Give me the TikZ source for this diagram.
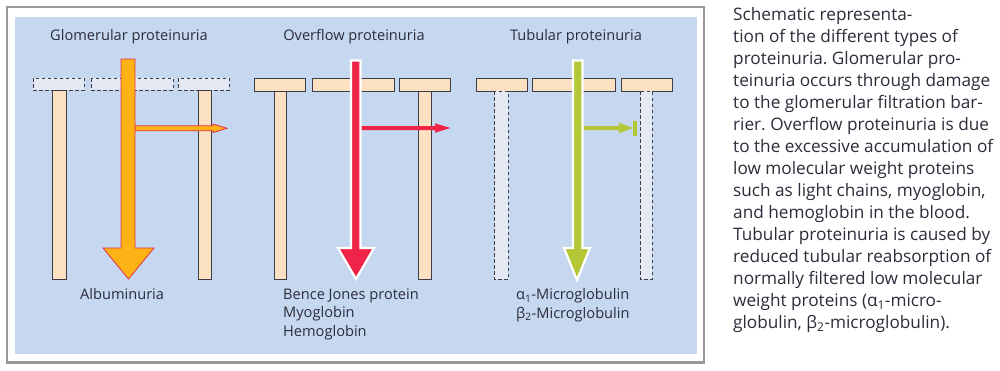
\documentclass[tikz,border=0pt]{standalone}
\usepackage{fontspec}
\setmainfont{Open Sans}
\frenchspacing
\definecolor{panelblue}{RGB}{197,216,239}
\definecolor{framegray}{RGB}{155,151,146}
\definecolor{wallpeach}{RGB}{252,224,194}
\definecolor{wallline}{RGB}{62,60,74}
\definecolor{lostfill}{RGB}{228,233,243}
\definecolor{albuorange}{RGB}{253,178,22}
\definecolor{albured}{RGB}{232,48,74}
\definecolor{overred}{RGB}{238,36,73}
\definecolor{tubgreen}{RGB}{180,199,54}
\definecolor{textgray}{RGB}{44,44,58}
\tikzset{
  wallpart/.style={fill=wallpeach, draw=wallline, line width=0.9pt},
  lostpart/.style={fill=lostfill, draw=wallline, line width=0.9pt, dash pattern=on 3.5pt off 2.5pt},
  label/.style={text=textgray, inner sep=0pt, font=\fontsize{14.6}{18.5}\selectfont}
}
\begin{document}
\begin{tikzpicture}[x=1pt, y=-1pt]
        \useasboundingbox (0,0) rectangle (1000,370);
        % Cadre et fond
        \draw[framegray, line width=2.5pt] (7,7) rectangle (704,362.5);
        \fill[panelblue] (15,17) rectangle (697,354);

        % Glomerular proteinuria
        \node[label, anchor=base] (glotitle) at (129,40) {Glomerular proteinuria};
        \draw[lostpart] (33,78) rectangle (84,90);
        \draw[lostpart] (91,78) rectangle (173,90);
        \draw[lostpart] (178,78) rectangle (229,90);
        \draw[wallpart] (52,90) rectangle (66,279);
        \draw[wallpart] (198,90) rectangle (211,279);
        \filldraw[fill=albuorange, draw=albured, line width=0.8pt]
            (135,125.8) -- (213,125.8) -- (213,124) -- (227,128.3) -- (213,132.6)
            -- (213,130.8) -- (135,130.8) -- cycle;
        \filldraw[fill=albuorange, draw=albured, line width=0.8pt]
            (121,59) -- (135,59) -- (135,248) -- (154,248) -- (128.5,279)
            -- (103,248) -- (121,248) -- cycle;
        \node[label, anchor=north west] (albu) at (80,288.5) {Albuminuria};

        % Overflow proteinuria
        \node[label, anchor=base] (overtitle) at (354,40) {Overflow proteinuria};
        \draw[wallpart] (254,78) rectangle (305,91);
        \draw[wallpart] (312,78) rectangle (394,91);
        \draw[wallpart] (399,78) rectangle (450,91);
        \draw[wallpart] (274,91) rectangle (286,279);
        \draw[wallpart] (418,91) rectangle (431,279);
        \fill[overred] (360,126) -- (435,126) -- (435,123.3) -- (450.5,128)
            -- (435,132.7) -- (435,130) -- (360,130) -- cycle;
        \filldraw[fill=overred, draw=white, line width=2.2pt]
            (351,60.5) -- (360.5,60.5) -- (360.5,248) -- (374,248) -- (356,279)
            -- (338,248) -- (351,248) -- cycle;
        \node[label, anchor=north west, align=left] (overlist) at (283,288.5)
            {Bence Jones protein\\Myoglobin\\Hemoglobin};

        % Tubular proteinuria
        \node[label, anchor=base] (tubtitle) at (576,40) {Tubular proteinuria};
        \draw[wallpart] (476,78) rectangle (527,91);
        \draw[wallpart] (532,78) rectangle (615,91);
        \draw[wallpart] (621,78) rectangle (672,91);
        \draw[lostpart] (494,91) rectangle (508,279);
        \draw[lostpart] (640,91) rectangle (652,279);
        \fill[tubgreen] (582,126) -- (619,126) -- (619,122.7) -- (632.5,128)
            -- (619,133.3) -- (619,130) -- (582,130) -- cycle;
        \fill[tubgreen] (633,121) rectangle (637,136);
        \filldraw[fill=tubgreen, draw=white, line width=2.2pt]
            (573,60.5) -- (582.5,60.5) -- (582.5,248) -- (590,248) -- (577,280)
            -- (564,248) -- (573,248) -- cycle;
        \node[label, anchor=north west, align=left] (tublist) at (516,288.5)
            {α\textsubscript{1}-Microglobulin\\β\textsubscript{2}-Microglobulin};

        % Legende
        \node[anchor=north west, align=left, inner sep=0pt, text=textgray,
              font=\fontsize{17.2}{22}\selectfont] (caption) at (733,7.5)
            {Schematic representa-\\tion of the different types of\\
             proteinuria. Glomerular pro-\\teinuria occurs through damage\\
             to the glomerular filtration bar-\\rier. Overflow proteinuria is due\\
             to the excessive accumulation of\\low molecular weight proteins\\
             such as light chains, myoglobin,\\and hemoglobin in the blood.\\
             Tubular proteinuria is caused by\\reduced tubular reabsorption of\\
             normally filtered low molecular\\weight proteins (α\textsubscript{1}-micro-\\
             globulin, β\textsubscript{2}-microglobulin).};
    \end{tikzpicture}
\end{document}
